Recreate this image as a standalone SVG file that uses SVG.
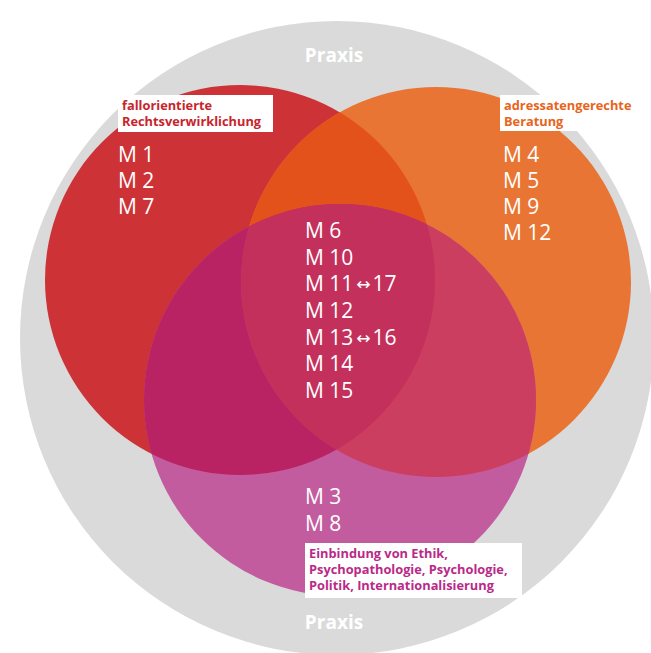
<svg xmlns="http://www.w3.org/2000/svg" width="651" height="653" viewBox="0 0 651 653">
<style>
.m{font-family:"Open Sans","Noto Sans",sans-serif;font-size:21px;fill:#fff}
.ar{font-family:"DejaVu Sans",sans-serif;font-size:17px}
.lab{font-family:"Open Sans","Noto Sans",sans-serif;font-size:12.8px;font-weight:bold}
.px{font-family:"Open Sans","Noto Sans",sans-serif;font-size:19px;font-weight:bold;fill:#fff;text-anchor:middle}
</style>
<defs>
<clipPath id="cR"><circle cx="240" cy="280" r="195"/></clipPath>
<clipPath id="cO"><circle cx="436" cy="282" r="195"/></clipPath>
</defs>
<rect width="651" height="653" fill="#fff"/>
<g id="praxis">
<circle cx="337" cy="338" r="317" fill="#dadada"/>
<text class="px" x="334" y="62">Praxis</text>
<text class="px" x="334" y="629">Praxis</text>
</g>
<g id="circle-red"><circle cx="240" cy="280" r="195" fill="#cd3237"/></g>
<g id="circle-orange"><circle cx="436" cy="282" r="195" fill="#e87534"/></g>
<g id="circle-magenta"><circle cx="340" cy="400" r="196" fill="#c25c9f"/></g>
<g id="overlaps">
<g clip-path="url(#cR)"><circle cx="436" cy="282" r="195" fill="#e4521b"/></g>
<g clip-path="url(#cR)"><circle cx="340" cy="400" r="196" fill="#b92263"/></g>
<g clip-path="url(#cO)"><circle cx="340" cy="400" r="196" fill="#cc3e5f"/></g>
<g clip-path="url(#cR)"><g clip-path="url(#cO)"><circle cx="340" cy="400" r="196" fill="#c4305c"/></g></g>
</g>
<g id="texts-red">
<text class="m" x="118" y="162">M 1</text>
<text class="m" x="118" y="188">M 2</text>
<text class="m" x="118" y="214">M 7</text>
</g>
<g id="texts-orange">
<text class="m" x="503" y="162">M 4</text>
<text class="m" x="503" y="188">M 5</text>
<text class="m" x="503" y="214">M 9</text>
<text class="m" x="503" y="240">M 12</text>
</g>
<g id="texts-center">
<text class="m" x="305" y="238">M 6</text>
<text class="m" x="305" y="265">M 10</text>
<text class="m" x="305" y="291">M 11<tspan class="ar" dx="3" dy="-1">↔</tspan><tspan dx="2" dy="1">17</tspan></text>
<text class="m" x="305" y="318">M 12</text>
<text class="m" x="305" y="345">M 13<tspan class="ar" dx="3" dy="-1">↔</tspan><tspan dx="2" dy="1">16</tspan></text>
<text class="m" x="305" y="371">M 14</text>
<text class="m" x="305" y="398">M 15</text>
</g>
<g id="texts-magenta">
<text class="m" x="305" y="504">M 3</text>
<text class="m" x="305" y="531">M 8</text>
</g>
<g id="label-red">
<rect x="118" y="95" width="155" height="37" fill="#fff"/>
<text class="lab" fill="#c8242b" x="122" y="110">fallorientierte</text>
<text class="lab" fill="#c8242b" x="122" y="126">Rechtsverwirklichung</text>
</g>
<g id="label-orange">
<rect x="500" y="95" width="141" height="36" fill="#fff"/>
<text class="lab" fill="#e8641c" x="504" y="110">adressatengerechte</text>
<text class="lab" fill="#e8641c" x="504" y="126">Beratung</text>
</g>
<g id="label-magenta">
<rect x="305" y="543" width="217" height="55" fill="#fff"/>
<text class="lab" fill="#b92a88" x="309" y="558">Einbindung von Ethik,</text>
<text class="lab" fill="#b92a88" x="309" y="574">Psychopathologie, Psychologie,</text>
<text class="lab" fill="#b92a88" x="309" y="590">Politik, Internationalisierung</text>
</g>
</svg>
